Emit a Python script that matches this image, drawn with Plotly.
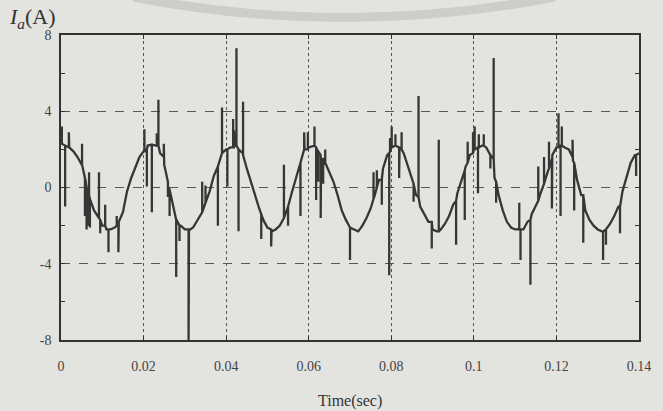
import plotly.graph_objects as go

# ---- data ----
time_ms = list(range(0, 141))  # sample times in ms
ia_base = [
    2.3, 2.2, 2.1, 1.9, 1.6, 1.2, 0.3, -0.6, -1.2, -1.6,
    -2.0, -2.2, -2.2, -2.1, -1.8, -1.3, -0.2, 0.5, 1.1, 1.6,
    1.9, 2.2, 2.25, 2.2, 1.8, 1.2, 0.0, -0.8, -1.7, -2.0,
    -2.2, -2.25, -2.1, -1.7, -1.3, -0.8, -0.2, 0.6, 1.1, 1.8,
    2.0, 2.1, 2.2, 2.0, 1.8, 1.0, 0.3, -0.5, -1.1, -1.7,
    -2.1, -2.3, -2.2, -2.0, -1.6, -1.0, -0.2, 0.6, 1.3, 2.0,
    2.1, 2.2, 2.0, 1.5, 1.2, 0.8, 0.3, -0.4, -1.2, -1.7,
    -2.1, -2.2, -2.3, -2.0, -1.6, -1.1, -0.4, 0.4, 1.0, 1.7,
    2.1, 2.2, 2.1, 1.8, 1.1, 0.4, -0.4, -1.0, -1.4, -1.8,
    -2.2, -2.3, -2.2, -1.9, -1.5, -0.9, -0.3, 0.4, 1.1, 1.7,
    2.0, 2.1, 2.2, 2.1, 1.7, 0.5, -0.4, -1.2, -1.8, -2.1,
    -2.2, -2.2, -2.2, -1.8, -1.4, -0.9, -0.4, 0.2, 0.9, 1.7,
    2.1, 2.2, 2.1, 2.0, 1.4, 0.4, -0.4, -1.2, -1.7, -2.0,
    -2.2, -2.3, -2.2, -1.9, -1.5, -1.0, -0.2, 0.6, 1.3, 1.7,
    1.8,
]

# spikes / noise bursts: time (ms), level they leave from, level they reach
spike_ms = [0.2, 1.0, 1.9, 5.1, 5.8, 6.2, 6.5, 6.8, 7.0, 9.2, 9.5, 10.7, 11.5, 13.5, 13.9,
            20.2, 20.8, 22.0, 23.2, 23.6, 24.9, 25.9, 26.3, 27.9, 28.7, 30.9, 34.2, 35.0, 38.0, 39.0,
            40.3, 41.7, 41.9, 42.5, 43.0, 44.1, 48.5, 50.9, 54.0, 55.0, 58.0, 58.9,
            59.8, 61.4, 61.8, 62.3, 62.9, 63.5, 64.0, 70.0, 75.7, 76.5, 77.7, 79.5, 79.7,
            80.1, 81.0, 81.9, 82.5, 85.4, 86.6, 89.8, 91.5, 95.7, 97.8, 98.5, 99.8,
            100.2, 101.0, 101.2, 102.4, 104.0, 104.8, 105.4, 111.0, 111.3, 113.7, 115.6, 117.0, 118.2, 118.9,
            120.5, 121.0, 121.3, 123.9, 124.3, 126.5, 131.3, 132.0, 135.4, 139.3]
spike_from = [2.3, 2.2, 2.1, 1.2, 0.5, 0.0, -0.2, -0.4, -0.6, -1.6, -1.7, -2.0, -2.2, -2.0, -2.0,
              1.9, 2.0, 2.25, 2.2, 2.2, 1.6, 0.3, -0.1, -1.7, -2.0, -2.2, -1.3, -0.8, 1.1, 1.8,
              2.0, 2.1, 2.1, 2.2, 2.0, 1.7, -1.4, -2.2, -1.6, -1.0, 1.3, 2.0,
              2.0, 2.2, 2.1, 1.9, 1.7, 1.5, 1.3, -2.1, -0.6, 0.0, 0.4, 1.8, 1.9,
              2.1, 2.2, 2.1, 2.0, 0.2, -0.5, -1.8, -2.3, -0.7, 0.9, 1.3, 1.8,
              2.0, 2.1, 2.1, 2.2, 1.7, 1.5, 0.3, -2.2, -2.2, -1.7, -0.7, 0.2, 1.0, 1.5,
              2.1, 2.2, 2.2, 1.6, 1.3, -0.4, -2.3, -2.2, -1.0, 1.7]
spike_to = [3.2, -1.0, 2.9, 2.3, -1.5, -2.2, -2.0, 0.8, -2.1, 0.8, -2.4, -0.9, -3.4, -1.5, -3.4,
            3.05, 0.05, -1.3, 2.85, 4.6, 2.3, -0.5, -1.5, -4.7, -2.8, -8.0, 0.3, 0.1, -2.0, 4.2,
            0.05, 3.6, 3.0, 7.3, -2.3, 4.5, -2.7, -3.1, 1.2, -2.0, -1.5, 2.9,
            2.9, 3.2, -0.65, 0.3, -1.6, 0.2, 2.0, -3.8, 0.8, 0.9, -0.9, -4.6, 2.6,
            3.2, 2.8, 0.5, 2.9, -0.75, 4.8, -3.2, 2.5, -3.0, -1.7, 2.4, 2.9,
            3.2, -0.3, 2.8, 2.8, 1.0, 6.8, -0.8, -0.8, -3.8, -5.1, 1.1, 1.6, 2.4, -1.1,
            3.9, -1.5, 3.2, 2.5, -1.2, -2.9, -3.8, -3.0, -2.4, 0.6]

x_ticks = [0, 0.02, 0.04, 0.06, 0.08, 0.1, 0.12, 0.14]
x_labels = ["0", "0.02", "0.04", "0.06", "0.08", "0.1", "0.12", "0.14"]
y_ticks = [-8, -4, 0, 4, 8]
y_labels = ["-8", "-4", "0", "4", "8"]
y_minor = [-6, -2, 2, 6]

# ---- merge base samples with spikes ----
order = sorted(range(len(spike_ms)), key=lambda k: spike_ms[k])
xs, ys = [], []
j = 0
for t, v in zip(time_ms, ia_base):
    while j < len(order) and spike_ms[order[j]] < t:
        k = order[j]
        xs += [spike_ms[k]] * 3
        ys += [spike_from[k], spike_to[k], spike_from[k]]
        j += 1
    xs.append(t)
    ys.append(v)
xs = [x / 1000.0 for x in xs]

BG = "#e3e3df"
INK = "#333333"
SERIF = "Liberation Serif, Times New Roman, serif"

fig = go.Figure()
fig.add_trace(go.Scatter(x=xs, y=ys, mode="lines",
                         line=dict(color="#363636", width=2.3),
                         hoverinfo="skip", showlegend=False))

L, R, T, B = 61, 12, 35, 71
W, H = 663, 411
pw, ph = W - L - R, H - T - B


def px(xp):
    return (xp - L) / pw


def py(yp):
    return (H - B - yp) / ph


fig.update_layout(
    width=W, height=H,
    margin=dict(l=L, r=R, t=T, b=B),
    paper_bgcolor=BG, plot_bgcolor=BG,
    font=dict(family=SERIF, color=INK, size=14),
    xaxis=dict(range=[0, 0.14], tickvals=x_ticks, ticktext=x_labels,
               showgrid=True, gridcolor="#555555", griddash="dot", gridwidth=1,
               ticks="inside", ticklen=4, tickcolor=INK,
               showline=True, linecolor=INK, linewidth=1.6, mirror="ticks",
               zeroline=False, ticklabelstandoff=12,
               tickfont=dict(family=SERIF, size=14, color="#444444")),
    yaxis=dict(range=[-8, 8], tickvals=y_ticks, ticktext=y_labels,
               showgrid=True, gridcolor="#555555", griddash="dash", gridwidth=1,
               ticks="inside", ticklen=4, tickcolor=INK,
               minor=dict(tickvals=y_minor, ticks="inside", ticklen=4, tickcolor=INK, showgrid=False),
               showline=True, linecolor=INK, linewidth=1.6, mirror="ticks",
               zeroline=False, ticklabelstandoff=5,
               tickfont=dict(family=SERIF, size=14, color="#444444")),
)

# faint watermark arc at the top of the scan
fig.add_shape(type="path", xref="paper", yref="paper", layer="below",
              path=f"M {px(135)},{py(-3)} Q {px(350)},{py(38)} {px(565)},{py(-3)}",
              line=dict(color="#cdcdc9", width=9))

fig.add_annotation(text="<i>I</i><sub><i>a</i></sub>(A)", xref="paper", yref="paper",
                   x=px(6), y=py(2), xanchor="left", yanchor="top", showarrow=False,
                   font=dict(family=SERIF, size=22, color=INK))
fig.add_annotation(text="Time(sec)", xref="paper", yref="paper",
                   x=px(356), y=py(401), xanchor="center", yanchor="middle", showarrow=False,
                   font=dict(family=SERIF, size=16, color=INK))

fig.write_html("out.html")
